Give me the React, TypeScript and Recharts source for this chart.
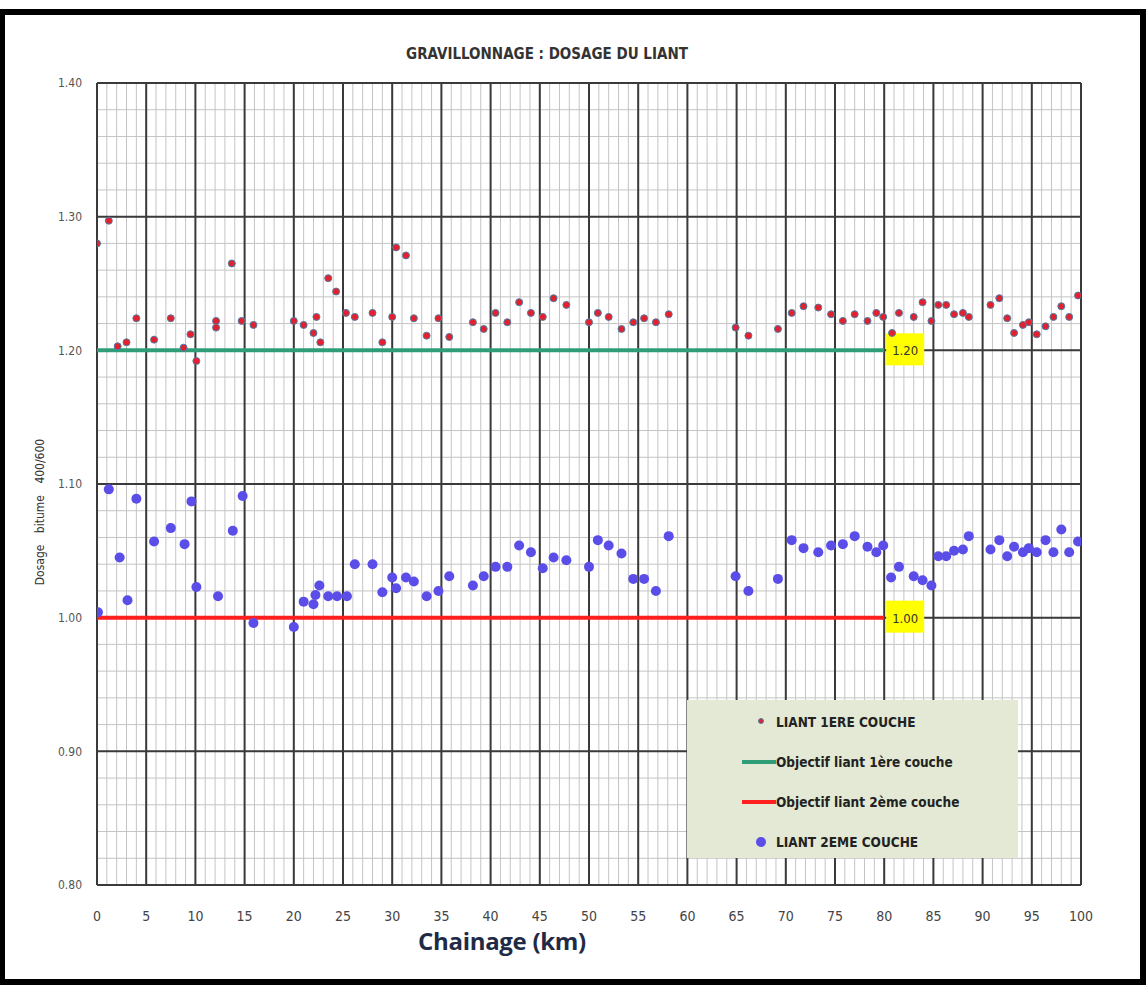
import React from "react";
import {
  ScatterChart,
  Scatter,
  XAxis,
  YAxis,
  ReferenceLine,
} from "recharts";

// LIANT 1ERE COUCHE
const km1 = [
  0, 1.2, 2.1, 3.0, 4.0, 5.8, 7.5, 8.8, 9.5, 10.1, 12.1, 12.1, 13.7, 14.7, 15.9,
  20.0, 21.0, 22.0, 22.3, 22.7, 23.5, 24.3, 25.3, 26.2, 28.0, 29.0, 30.0, 30.4,
  31.4, 32.2, 33.5, 34.7, 35.8, 38.2, 39.3, 40.5, 41.7, 42.9, 44.1, 45.3, 46.4,
  47.7, 50.0, 50.9, 52.0, 53.3, 54.5, 55.6, 56.8, 58.1, 64.9, 66.2, 69.2, 70.6,
  71.8, 73.3, 74.6, 75.8, 77.0, 78.3, 79.2, 79.9, 80.8, 81.5, 83.0, 83.9, 84.8,
  85.5, 86.3, 87.1, 88.0, 88.6, 90.8, 91.7, 92.5, 93.2, 94.1, 94.7, 95.5, 96.4,
  97.2, 98.0, 98.8, 99.7,
];
const liant1 = [
  1.28, 1.297, 1.203, 1.206, 1.224, 1.208, 1.224, 1.202, 1.212, 1.192, 1.222,
  1.217, 1.265, 1.222, 1.219, 1.222, 1.219, 1.213, 1.225, 1.206, 1.254, 1.244,
  1.228, 1.225, 1.228, 1.206, 1.225, 1.277, 1.271, 1.224, 1.211, 1.224, 1.21,
  1.221, 1.216, 1.228, 1.221, 1.236, 1.228, 1.225, 1.239, 1.234, 1.221, 1.228,
  1.225, 1.216, 1.221, 1.224, 1.221, 1.227, 1.217, 1.211, 1.216, 1.228, 1.233,
  1.232, 1.227, 1.222, 1.227, 1.222, 1.228, 1.225, 1.213, 1.228, 1.225, 1.236,
  1.222, 1.234, 1.234, 1.227, 1.228, 1.225, 1.234, 1.239, 1.224, 1.213, 1.219,
  1.221, 1.212, 1.218, 1.225, 1.233, 1.225, 1.241,
];

// LIANT 2EME COUCHE
const km2 = [
  0.1, 1.2, 2.3, 3.1, 4.0, 5.8, 7.5, 8.9, 9.6, 10.1, 12.3, 13.8, 14.8, 15.9,
  20.0, 21.0, 22.0, 22.2, 22.6, 23.5, 24.4, 25.4, 26.2, 28.0, 29.0, 30.0, 30.4,
  31.4, 32.2, 33.5, 34.7, 35.8, 38.2, 39.3, 40.5, 41.7, 42.9, 44.1, 45.3, 46.4,
  47.7, 50.0, 50.9, 52.0, 53.3, 54.5, 55.6, 56.8, 58.1, 64.9, 66.2, 69.2, 70.6,
  71.8, 73.3, 74.6, 75.8, 77.0, 78.3, 79.2, 79.9, 80.7, 81.5, 83.0, 83.9, 84.8,
  85.5, 86.3, 87.1, 88.0, 88.6, 90.8, 91.7, 92.5, 93.2, 94.1, 94.7, 95.5, 96.4,
  97.2, 98.0, 98.8, 99.7,
];
const liant2 = [
  1.004, 1.096, 1.045, 1.013, 1.089, 1.057, 1.067, 1.055, 1.087, 1.023, 1.016,
  1.065, 1.091, 0.996, 0.993, 1.012, 1.01, 1.017, 1.024, 1.016, 1.016, 1.016,
  1.04, 1.04, 1.019, 1.03, 1.022, 1.03, 1.027, 1.016, 1.02, 1.031, 1.024, 1.031,
  1.038, 1.038, 1.054, 1.049, 1.037, 1.045, 1.043, 1.038, 1.058, 1.054, 1.048,
  1.029, 1.029, 1.02, 1.061, 1.031, 1.02, 1.029, 1.058, 1.052, 1.049, 1.054,
  1.055, 1.061, 1.053, 1.049, 1.054, 1.03, 1.038, 1.031, 1.028, 1.024, 1.046,
  1.046, 1.05, 1.051, 1.061, 1.051, 1.058, 1.046, 1.053, 1.049, 1.052, 1.049,
  1.058, 1.049, 1.066, 1.049, 1.057,
];

const xTicks = [0, 5, 10, 15, 20, 25, 30, 35, 40, 45, 50, 55, 60, 65, 70, 75, 80, 85, 90, 95, 100];
const yTicks = [0.8, 0.9, 1.0, 1.1, 1.2, 1.3, 1.4];
const xMinor = Array.from({ length: 101 }, (_, i) => i);
const yMinor = Array.from({ length: 31 }, (_, i) => +(0.8 + i * 0.02).toFixed(2));

const objectif1 = 1.2;
const objectif2 = 1.0;
const objectifEnd = 80;

const serie1 = km1.map((x, i) => ({ x, y: liant1[i] }));
const serie2 = km2.map((x, i) => ({ x, y: liant2[i] }));

const narrow = '"Liberation Sans Narrow", "DejaVu Sans Condensed", "Liberation Sans", sans-serif';

const yellowTag = (text: string) => (props: any) => {
  const vb = props.viewBox || {};
  const x = (vb.x ?? 0) + (vb.width ?? 0);
  const y = vb.y ?? 0;
  return (
    <g>
      <rect x={x + 2} y={y - 17} width={38} height={32} fill="#ffff00" />
      <text x={x + 21} y={y + 5} textAnchor="middle" fontSize={13} fontFamily={narrow} fill="#333">
        {text}
      </text>
    </g>
  );
};

const RedDot = (props: any) => (
  <circle cx={props.cx} cy={props.cy} r={3.5} fill="#e3202e" stroke="#4c7fa6" strokeWidth={1} />
);
const BlueDot = (props: any) => (
  <circle cx={props.cx} cy={props.cy} r={5} fill="#5b4de8" />
);

const legendItems = [
  { name: "LIANT 1ERE COUCHE", kind: "dot1" },
  { name: "Objectif liant 1ère couche", kind: "green" },
  { name: "Objectif liant 2ème couche", kind: "red" },
  { name: "LIANT 2EME COUCHE", kind: "dot2" },
];

export default function App() {
  return (
    <div style={{ position: "fixed", left: 0, top: 0, width: 1146, height: 986, background: "#fff" }}>
      <div
        style={{
          position: "absolute",
          left: 0,
          top: 9,
          width: 1146,
          height: 976,
          boxSizing: "border-box",
          borderStyle: "solid",
          borderColor: "#000",
          borderWidth: "6px 6px 6px 5px",
        }}
      />
      <div
        style={{
          position: "absolute",
          left: 0,
          width: 1094,
          top: 45,
          textAlign: "center",
          fontFamily: narrow,
          fontWeight: "bold",
          fontSize: 15,
          color: "#333",
        }}
      >
        GRAVILLONNAGE : DOSAGE DU LIANT
      </div>
      <div style={{ position: "absolute", left: 0, top: 0 }}>
        <ScatterChart width={1146} height={986} margin={{ top: 83, right: 65, bottom: 71, left: 37 }}>
          {xMinor.map((v) => (
            <ReferenceLine key={"xm" + v} x={v} stroke="#c4c4c4" strokeWidth={1} />
          ))}
          {yMinor.map((v) => (
            <ReferenceLine key={"ym" + v} y={v} stroke="#c4c4c4" strokeWidth={1} />
          ))}
          {xTicks.map((v) => (
            <ReferenceLine key={"xM" + v} x={v} stroke="#3a3a3a" strokeWidth={2} />
          ))}
          {yTicks.map((v) => (
            <ReferenceLine key={"yM" + v} y={v} stroke="#3a3a3a" strokeWidth={2} />
          ))}
          <XAxis
            type="number"
            dataKey="x"
            domain={[0, 100]}
            ticks={xTicks}
            allowDataOverflow
            axisLine={false}
            tickLine={false}
            tickMargin={20}
            height={30}
            tick={{ fontSize: 14, fill: "#444", fontFamily: narrow }}
          />
          <YAxis
            type="number"
            dataKey="y"
            domain={[0.8, 1.4]}
            ticks={yTicks}
            allowDataOverflow
            axisLine={false}
            tickLine={false}
            tickMargin={9}
            width={60}
            tickFormatter={(v: number) => v.toFixed(2)}
            tick={{ fontSize: 12, fill: "#555", fontFamily: narrow }}
          />
          <ReferenceLine
            segment={[
              { x: 0, y: objectif1 },
              { x: objectifEnd, y: objectif1 },
            ]}
            stroke="#2f9e78"
            strokeWidth={4}
            label={{ content: yellowTag("1.20") }}
          />
          <ReferenceLine
            segment={[
              { x: 0, y: objectif2 },
              { x: objectifEnd, y: objectif2 },
            ]}
            stroke="#ff1f1f"
            strokeWidth={4}
            label={{ content: yellowTag("1.00") }}
          />
          <Scatter name="LIANT 1ERE COUCHE" data={serie1} shape={RedDot} isAnimationActive={false} />
          <Scatter name="LIANT 2EME COUCHE" data={serie2} shape={BlueDot} isAnimationActive={false} />
        </ScatterChart>
      </div>
      <div
        style={{
          position: "absolute",
          left: 40,
          top: 512,
          transform: "translate(-50%, -50%) rotate(-90deg)",
          whiteSpace: "nowrap",
          fontFamily: narrow,
          fontSize: 12,
          color: "#333",
          wordSpacing: 8,
        }}
      >
        Dosage bitume 400/600
      </div>
      <div
        style={{
          position: "absolute",
          left: 418,
          top: 924,
          fontFamily: '"Open Sans", "Noto Sans", sans-serif',
          fontWeight: "bold",
          fontSize: 24,
          color: "#1f2b46",
          letterSpacing: -0.3,
        }}
      >
        Chainage (km)
      </div>
      <div
        style={{
          position: "absolute",
          left: 687,
          top: 700,
          width: 331,
          height: 158,
          background: "#e3e9d4",
          fontFamily: narrow,
          fontWeight: "bold",
          fontSize: 13.5,
          color: "#222",
        }}
      >
        {legendItems.map((it, i) => (
          <div
            key={it.name}
            style={{ position: "absolute", left: 0, top: 14 + i * 40, height: 16, width: 331 }}
          >
            <svg width={40} height={16} style={{ position: "absolute", left: 54, top: 0 }}>
              {it.kind === "dot1" && <circle cx={20} cy={7} r={2.5} fill="#e3202e" stroke="#4c7fa6" strokeWidth={1} />}
              {it.kind === "green" && <line x1={1} x2={35} y1={8} y2={8} stroke="#2f9e78" strokeWidth={4} />}
              {it.kind === "red" && <line x1={1} x2={35} y1={8} y2={8} stroke="#ff1f1f" strokeWidth={4} />}
              {it.kind === "dot2" && <circle cx={20} cy={8} r={5} fill="#5b4de8" />}
            </svg>
            <span style={{ position: "absolute", left: 89, top: 0, whiteSpace: "nowrap" }}>{it.name}</span>
          </div>
        ))}
      </div>
    </div>
  );
}
